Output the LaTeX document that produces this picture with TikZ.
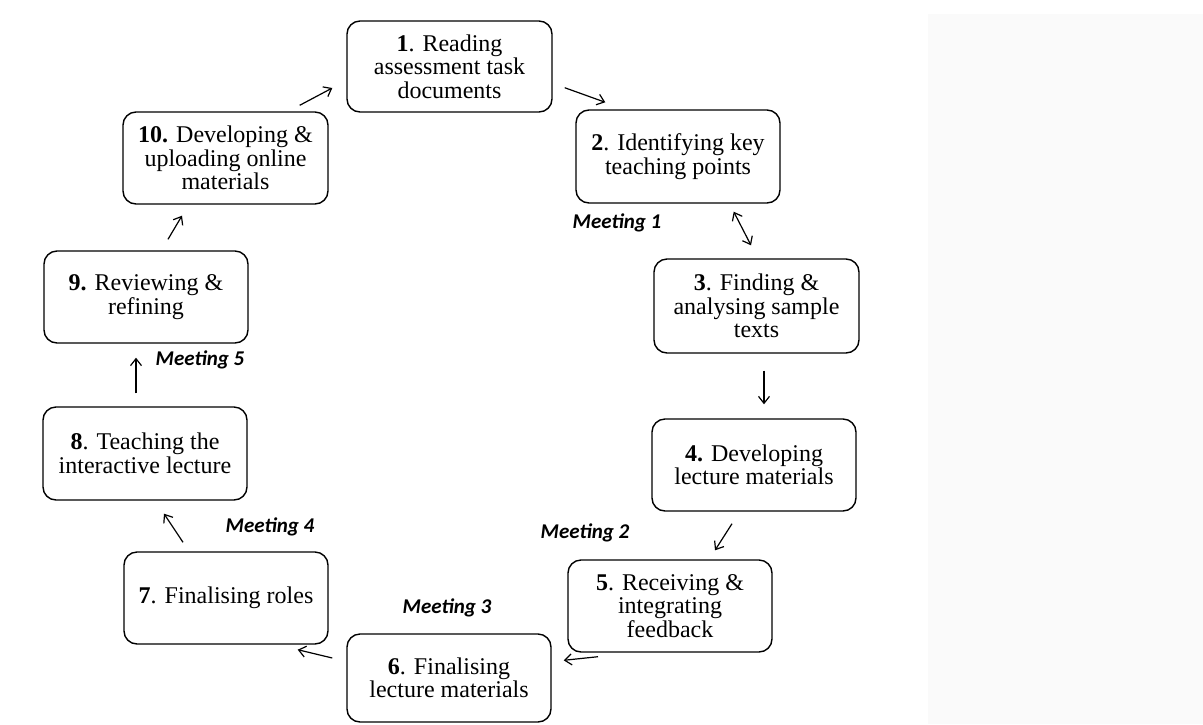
\documentclass[tikz,border=0pt]{standalone}
\usepackage{fontspec}
\setmainfont{Liberation Serif}
\newfontfamily\meetfont{Carlito}
\usetikzlibrary{arrows.meta,calc}
\definecolor{panelgray}{HTML}{FAFAFA}
\begin{document}
\begin{tikzpicture}[x=1pt,y=-1pt,
 stepbox/.style={draw, line width=1.4pt, rounded corners=13pt, align=center, inner sep=0pt, font=\fontsize{24}{23.5}\selectfont},
 meet/.style={font=\meetfont\bfseries\itshape\fontsize{21}{21}\selectfont, inner sep=0pt},
 arr/.style={line width=1.2pt, -{Straight Barb[length=7pt,width=11pt]}},
 arrtwo/.style={line width=1.2pt, {Straight Barb[length=7pt,width=11pt]}-{Straight Barb[length=7pt,width=11pt]}},
]
\fill[white] (0,0) rectangle (1203,724);
\fill[panelgray] (928,14) rectangle (1203,724);
\useasboundingbox (0,0) rectangle (1203,724);

\node[stepbox, minimum width=205pt, minimum height=91pt] (n1) at (449.5,66.5) {\textbf{1}. Reading\\assessment task\\documents};
\node[stepbox, minimum width=204pt, minimum height=93pt] (n2) at (678,156.5) {\textbf{2}. Identifying key\\teaching points};
\node[stepbox, minimum width=205pt, minimum height=94pt] (n3) at (756.5,306) {\textbf{3}. Finding \&\\analysing sample\\texts};
\node[stepbox, minimum width=204pt, minimum height=92pt] (n4) at (754,465) {\textbf{4.} Developing\\lecture materials};
\node[stepbox, minimum width=204pt, minimum height=92pt] (n5) at (670,606) {\textbf{5}. Receiving \&\\integrating\\feedback};
\node[stepbox, minimum width=204pt, minimum height=88pt] (n6) at (449,678) {\textbf{6}. Finalising\\lecture materials};
\node[stepbox, minimum width=204pt, minimum height=92pt] (n7) at (226,598) {\textbf{7}. Finalising roles};
\node[stepbox, minimum width=204pt, minimum height=93pt] (n8) at (145,453.5) {\textbf{8}. Teaching the\\interactive lecture};
\node[stepbox, minimum width=204pt, minimum height=92pt] (n9) at (146,297) {\textbf{9.} Reviewing \&\\refining};
\node[stepbox, minimum width=205pt, minimum height=92pt] (n10) at (225.5,158) {\textbf{10.} Developing \&\\uploading online\\materials};

\node[meet] (m1) at (617,223) {Meeting 1};
\node[meet] (m2) at (585,533) {Meeting 2};
\node[meet] (m3) at (447,608) {Meeting 3};
\node[meet] (m4) at (270,527) {Meeting 4};
\node[meet] (m5) at (200,360) {Meeting 5};

\draw[arr] ($(n1.south east)+(12,-25)$) -- ($(n2.north west)+(30,-7)$);
\draw[arrtwo] ($(n2.south east)+(-47,8)$) -- ($(n3.north)+(-5.5,-13)$);
\draw[arr] ($(n3.south)+(7.5,17)$) -- ($(n4.north)+(10,-14)$);
\draw[arr] ($(n4.south)+(-22,12)$) -- ($(n5.north)+(45,-9)$);
\draw[arr] ($(n5.south)+(-72,4)$) -- ($(n6.north east)+(12,27)$);
\draw[arr] ($(n6.west)+(-14,-20)$) -- ($(n7.south east)+(-31,5)$);
\draw[arr] ($(n7.north)+(-43,-9)$) -- ($(n8.south)+(19,13)$);
\draw[arr] ($(n8.north)+(-9,-13)$) -- ($(n9.south)+(-10,14)$);
\draw[arr] ($(n9.north)+(22,-11)$) -- ($(n10.south)+(-43.5,11)$);
\draw[arr] ($(n10.north east)+(-29,-6)$) -- ($(n1.west)+(-14,21.5)$);
\end{tikzpicture}
\end{document}
